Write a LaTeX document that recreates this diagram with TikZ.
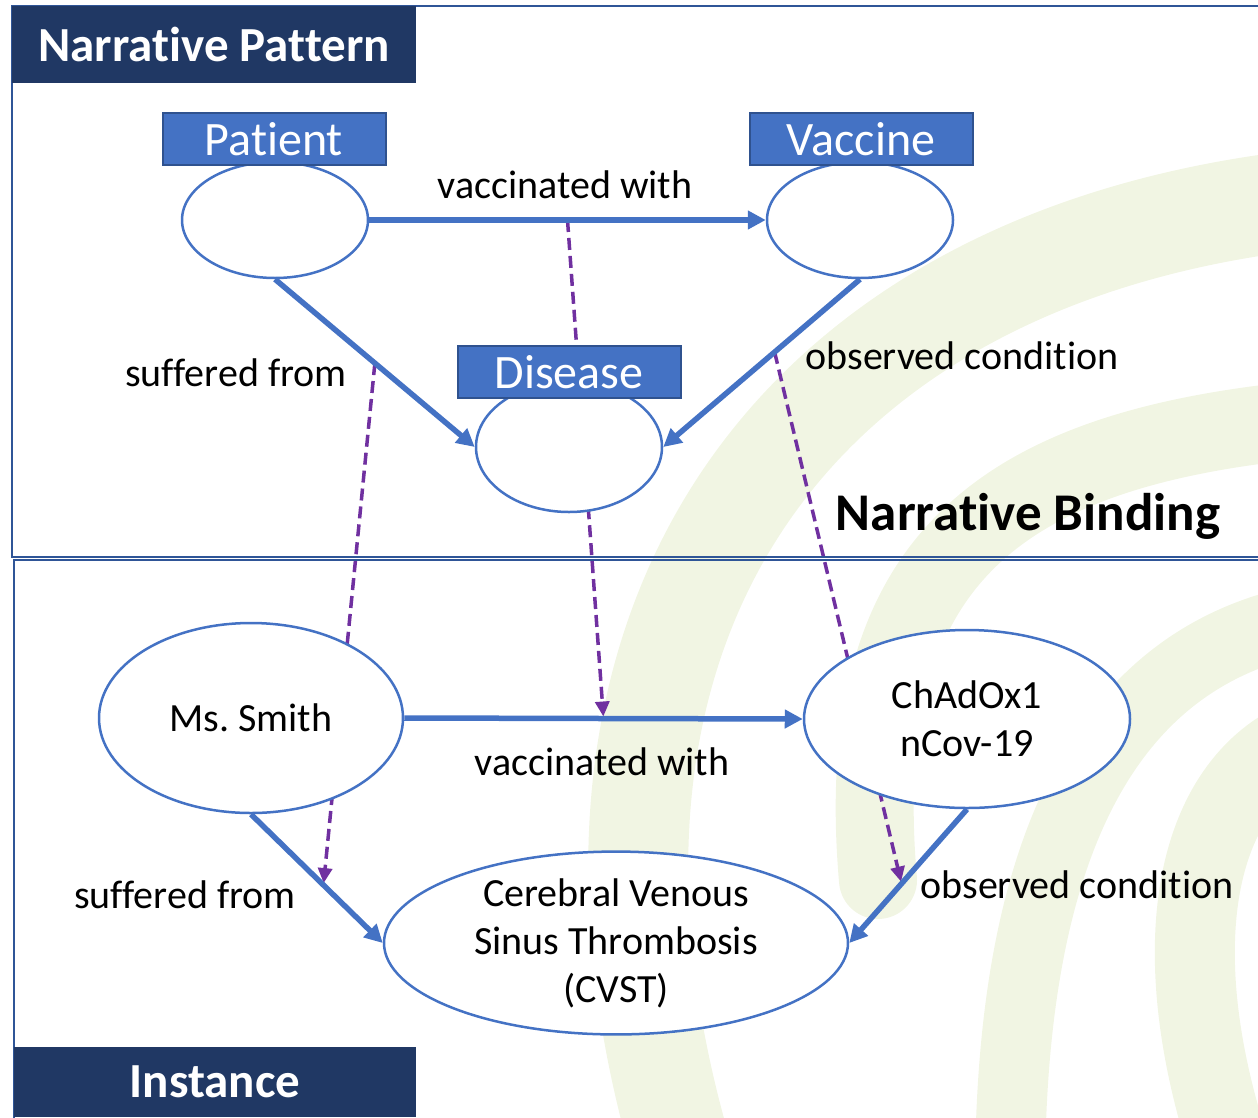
\documentclass[tikz,border=0pt]{standalone}
\usepackage{fontspec}
\setmainfont{Carlito}[Ligatures=NoCommon]
\usepackage{xcolor}
\usetikzlibrary{arrows.meta, shapes.geometric, backgrounds}

\definecolor{navy}{HTML}{203864}
\definecolor{tagblue}{HTML}{4472C4}
\definecolor{tagedge}{HTML}{2F528F}
\definecolor{bindpurple}{HTML}{7030A0}
\definecolor{framecol}{HTML}{2F5597}
\definecolor{swirl}{HTML}{F1F5E3}

\begin{document}
\begin{tikzpicture}[x=1pt, y=-1pt]
\tikzstyle{entity}=[ellipse, draw=tagblue, line width=2.5pt, fill=white, inner sep=0pt, align=center, font=\fontsize{40}{48}\selectfont]
\tikzstyle{tag}=[rectangle, draw=tagedge, line width=2pt, fill=tagblue, text=white, minimum width=223pt, minimum height=52pt, inner sep=0pt, font=\fontsize{48}{48}\selectfont]
\tikzstyle{header}=[rectangle, fill=navy, text=white, inner sep=0pt, font=\bfseries\fontsize{49}{52}\selectfont]
\tikzstyle{relation}=[draw=tagblue, line width=5.5pt, -{Triangle[length=18pt,width=18pt]}]
\tikzstyle{binding}=[draw=bindpurple, line width=3.5pt, dash pattern=on 12pt off 6pt, shorten >=2pt, -{Triangle[length=15pt,width=14pt]}]
\tikzstyle{lbl}=[anchor=base, inner sep=0pt, font=\fontsize{40}{48}\selectfont]
\useasboundingbox (0,0) rectangle (1258,1117);

% watermark
\begin{pgfonlayer}{background}
\draw[swirl, line width=100pt] (1300,200) .. controls (780,260) and (520,640) .. (690,1180);
\draw[swirl, line width=78pt, line cap=round] (1300,420) .. controls (1000,450) and (850,560) .. (878,880);
\draw[swirl, line width=70pt] (1300,620) .. controls (1110,660) and (1010,840) .. (1010,1180);
\draw[swirl, line width=80pt] (1300,740) .. controls (1190,790) and (1160,960) .. (1240,1180);
\end{pgfonlayer}

% panels
\draw[framecol, line width=2.5pt] (1262,6) -- (12,6) -- (12,557) -- (1262,557);
\draw[framecol, line width=2.5pt] (1262,560) -- (14,560) -- (14,1120);
\node[header, minimum width=404pt, minimum height=77pt] (patternHead) at (214,44.5) {Narrative Pattern};
\node[header, minimum width=402pt, minimum height=70pt] (instanceHead) at (215,1082) {Instance};

% pattern
\node[entity, minimum width=186pt, minimum height=116pt] (patient) at (275,220) {};
\node[entity, minimum width=186pt, minimum height=116pt] (vaccine) at (860,220) {};
\node[entity, minimum width=186pt, minimum height=130pt] (disease) at (569,447) {};
\node[tag] (patientTag) at (274,139) {Patient};
\node[tag] (vaccineTag) at (861,139) {Vaccine};
\node[tag] (diseaseTag) at (569,372) {Disease};
\draw[relation] (patient.east) -- coordinate[pos=0.5] (vwMid) (vaccine.west);
\draw[relation] (patient.south) -- coordinate[pos=0.5] (sfMid) (disease.west);
\draw[relation] (vaccine.south) -- coordinate[pos=0.434] (ocMid) (disease.east);
\node[lbl] (vwTop) at (565,198) {vaccinated with};
\node[lbl] (sfTop) at (236,386) {suffered from};
\node[lbl] (ocTop) at (962,369) {observed condition};
\node[lbl, font=\bfseries\fontsize{53}{56}\selectfont] (bindingLbl) at (1028,530) {Narrative Binding};

% instance
\node[entity, minimum width=304pt, minimum height=190pt] (smith) at (251,718) {Ms.\ Smith};
\node[entity, minimum width=326pt, minimum height=178pt] (chadox) at (967,719) {ChAdOx1\\nCov-19};
\node[entity, minimum width=464pt, minimum height=176pt] (cvst) at (616,943) {Cerebral Venous\\Sinus Thrombosis\\(CVST)};
\draw[relation] (smith.east) -- coordinate[pos=0.5] (vwInst) (chadox.west);
\draw[relation] (smith.south) -- coordinate[pos=0.55] (sfInst) (cvst.west);
\draw[relation] (chadox.south) -- coordinate[pos=0.556] (ocInst) (cvst.east);
\node[lbl] (vwBot) at (602,775) {vaccinated with};
\node[lbl] (sfBot) at (185,908) {suffered from};
\node[lbl] (ocBot) at (1077,898) {observed condition};

% bindings
\begin{pgfonlayer}{background}
\draw[binding] (vwMid) -- (vwInst);
\draw[binding] (sfMid) -- (sfInst);
\draw[binding] (ocMid) -- (ocInst);
\end{pgfonlayer}
\end{tikzpicture}
\end{document}
